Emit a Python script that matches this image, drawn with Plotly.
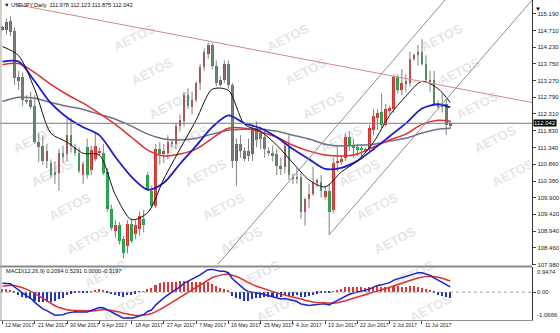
import plotly.graph_objects as go

# ---------------- data ----------------
date_labels = ["12 Mar 2017", "21 Mar 2017", "30 Mar 2017", "9 Apr 2017", "18 Apr 2017",
               "27 Apr 2017", "7 May 2017", "16 May 2017", "25 May 2017", "4 Jun 2017",
               "13 Jun 2017", "22 Jun 2017", "2 Jul 2017", "11 Jul 2017"]
date_label_bars = [0, 8, 16, 24, 32, 40, 48, 56, 64, 72, 80, 88, 96, 104]

opens = [114.75, 114.72, 114.98, 114.70, 113.25, 113.38, 112.72, 112.70, 112.55, 111.50,
         111.38, 110.96, 110.90, 110.65, 110.60, 111.20, 111.15, 111.70, 111.36, 111.20,
         110.55, 111.35, 110.70, 111.00, 111.20, 111.20, 110.64, 109.58, 108.95, 109.10,
         108.70, 108.52, 109.15, 108.85, 109.00, 109.30, 110.55, 110.10, 109.65, 111.30,
         111.15, 111.20, 111.50, 111.45, 111.95, 112.10, 112.85, 112.50, 112.72, 113.20,
         113.65, 114.05, 114.30, 113.70, 113.15, 113.30, 113.75, 113.15, 110.95, 111.45,
         111.25, 111.25, 111.15, 111.90, 111.75, 111.65, 111.25, 111.20, 111.15, 110.80,
         110.78, 111.40, 110.50, 110.45, 110.50, 109.50, 109.85, 110.00, 110.35, 110.35,
         109.93, 110.10, 109.55, 110.90, 110.95, 111.05, 111.65, 111.40, 111.35, 111.30,
         111.25, 111.30, 111.85, 112.20, 112.38, 112.00, 112.40, 112.45, 113.38, 113.00,
         113.20, 113.20, 113.90, 114.00, 114.10, 113.75, 113.25, 113.30, 112.60, 112.50,
         112.60, 111.978]
highs = [114.85, 115.05, 115.12, 114.80, 113.55, 113.50, 112.85, 112.95, 112.85, 111.75,
         111.70, 111.45, 111.00, 110.95, 111.30, 111.40, 112.16, 112.20, 111.45, 111.35,
         110.95, 111.60, 111.40, 111.80, 111.35, 111.45, 110.75, 109.70, 109.25, 109.20,
         108.80, 109.25, 109.30, 109.25, 109.50, 109.55, 110.65, 110.25, 111.45, 111.50,
         111.45, 111.70, 111.60, 112.05, 112.30, 112.95, 113.05, 112.95, 113.25, 113.75,
         114.20, 114.37, 114.36, 113.85, 113.40, 113.85, 113.85, 113.20, 111.60, 111.70,
         111.35, 111.60, 112.00, 112.10, 111.95, 111.90, 111.35, 111.40, 111.30, 111.05,
         111.50, 111.70, 110.60, 110.75, 110.60, 109.90, 110.30, 110.80, 110.45, 110.55,
         110.25, 110.30, 111.05, 111.40, 111.10, 111.75, 111.80, 111.60, 111.45, 111.40,
         111.35, 112.00, 112.45, 112.45, 112.90, 112.60, 112.55, 113.45, 113.45, 113.60,
         113.45, 114.10, 114.05, 114.30, 114.47, 114.00, 113.55, 113.55, 112.70, 112.90,
         112.75, 112.123]
lows = [114.70, 114.60, 114.55, 113.15, 113.00, 112.55, 112.60, 112.45, 111.45, 110.93,
        110.85, 110.75, 110.45, 110.30, 110.10, 110.90, 110.95, 111.20, 111.10, 110.60,
        110.30, 110.45, 110.55, 110.95, 111.10, 110.55, 109.50, 108.95, 108.75, 108.55,
        108.15, 108.30, 108.60, 108.70, 108.80, 108.90, 110.10, 109.60, 109.60, 110.85,
        110.90, 111.00, 111.35, 111.30, 111.80, 111.95, 112.45, 112.30, 112.65, 113.00,
        113.55, 113.90, 113.60, 113.10, 113.10, 113.20, 113.05, 110.75, 110.24, 111.05,
        110.95, 110.95, 110.95, 111.35, 111.30, 111.05, 111.10, 110.95, 110.55, 110.55,
        110.60, 110.40, 110.30, 110.30, 109.30, 109.10, 109.60, 109.95, 110.20, 109.90,
        109.85, 108.83, 109.45, 110.65, 110.85, 110.95, 111.25, 111.05, 111.10, 111.00,
        111.20, 111.20, 111.70, 111.85, 111.90, 111.95, 112.30, 112.35, 112.90, 112.85,
        112.95, 113.10, 113.85, 113.70, 113.70, 113.20, 112.95, 112.55, 112.45, 112.35,
        111.70, 111.875]
closes = [114.80, 114.95, 114.68, 113.36, 113.38, 112.72, 112.68, 112.52, 111.50, 111.36,
          110.96, 111.25, 110.55, 110.55, 111.20, 111.08, 111.70, 111.38, 111.20, 110.68,
          110.87, 110.55, 111.28, 111.40, 111.25, 110.62, 109.58, 109.02, 109.10, 108.64,
          108.30, 109.15, 108.64, 109.10, 109.38, 109.10, 110.15, 109.65, 111.30, 111.15,
          111.25, 111.50, 111.45, 111.95, 112.15, 112.85, 112.55, 112.70, 113.20, 113.65,
          114.10, 114.30, 113.70, 113.20, 113.30, 113.75, 113.15, 110.95, 111.45, 111.25,
          111.00, 111.10, 111.90, 111.55, 111.60, 111.30, 111.20, 111.10, 110.80, 110.75,
          111.40, 110.55, 110.45, 110.48, 109.50, 109.85, 110.00, 110.35, 110.40, 110.10,
          110.10, 109.50, 110.90, 110.95, 111.00, 111.65, 111.40, 111.35, 111.30, 111.28,
          111.30, 111.90, 112.25, 112.35, 112.00, 112.45, 112.48, 113.38, 113.00, 113.20,
          113.25, 113.90, 114.00, 114.10, 113.75, 113.30, 113.25, 112.60, 112.50, 112.60,
          111.98, 112.042]

# moving averages, read at every 4th bar
ma_idx = [0, 4, 8, 12, 16, 20, 24, 28, 32, 36, 40, 44, 48, 52, 56, 60, 64, 68, 72, 76,
          80, 84, 88, 92, 96, 100, 104, 108, 111]
ma_black = [114.25, 113.99, 113.02, 111.76, 111.50, 111.18, 111.13, 109.98, 109.27, 109.47,
            110.44, 111.30, 112.13, 113.02, 112.99, 112.01, 111.81, 111.41, 110.90, 110.41,
            110.21, 110.64, 110.96, 111.50, 112.27, 112.82, 113.25, 113.04, 112.64]
ma_blue = [113.82, 113.82, 113.25, 112.62, 112.21, 111.93, 111.70, 111.07, 110.50, 110.13,
           110.33, 110.87, 111.39, 111.93, 112.27, 112.04, 111.90, 111.64, 111.30, 111.01,
           110.73, 110.76, 110.96, 111.30, 111.67, 112.04, 112.47, 112.59, 112.50]
ma_red = [113.73, 113.76, 113.50, 113.16, 112.87, 112.62, 112.33, 112.01, 111.64, 111.27,
          111.10, 111.16, 111.30, 111.61, 111.90, 111.90, 111.79, 111.64, 111.41, 111.24,
          111.13, 111.10, 111.16, 111.36, 111.56, 111.73, 112.01, 112.13, 112.10]
ma_gray = [112.67, 112.79, 112.76, 112.64, 112.53, 112.44, 112.30, 112.16, 111.96, 111.73,
           111.59, 111.56, 111.61, 111.73, 111.84, 111.87, 111.87, 111.81, 111.70, 111.59,
           111.44, 111.39, 111.41, 111.44, 111.53, 111.61, 111.76, 111.87, 111.90]

# trend lines (bar, price) end points
resist_line = [(3.0, 115.47), (131.3, 112.64)]
channel_low = [(81.0, 108.83), (131.3, 115.59)]
channel_up = [(53.4, 107.98), (109.7, 115.59)]

price_ticks = [107.98, 108.46, 108.94, 109.42, 109.90, 110.38, 110.86, 111.34,
               111.83, 112.31, 112.79, 113.27, 113.75, 114.23, 114.71, 115.19]
price_tick_text = ["107.980", "108.460", "108.940", "109.420", "109.900", "110.380",
                   "110.860", "111.340", "111.830", "112.310", "112.790", "113.270",
                   "113.750", "114.230", "114.710", "115.190"]
macd_max, macd_min = 0.9474, -1.0666
macd_scale_text = ["0.9474", "0.00", "-1.0666"]

# MACD(12,26,9) seeds (state before first visible bar)
EMA12_SEED, EMA26_SEED, SIGNAL_SEED = 114.55, 114.20, 0.20

header_text = "\u25bc USDJPY,Daily  111.978 112.123 111.875 112.042"
macd_header = "MACD(12,26,9) 0.2094 0.5291 0.0000 -0.3197"

# ---------------- derived ----------------
n = len(closes)
bars = list(range(n))
e12, e26, sg = EMA12_SEED, EMA26_SEED, SIGNAL_SEED
macd, signal = [], []
for c in closes:
    e12 += 2 / 13 * (c - e12)
    e26 += 2 / 27 * (c - e26)
    m = e12 - e26
    sg += 2 / 10 * (m - sg)
    macd.append(m)
    signal.append(sg)
hist = [m - s for m, s in zip(macd, signal)]

# ---------------- geometry / styles ----------------
W, H = 560, 333
RIGHT = 537
MAIN_BOT, MACD_TOP, MACD_BOT = 267, 269, 322
X0, DX = 2.5, 4.07
x_range = [-X0 / DX, (RIGHT - X0) / DX]
PPU = 34.95
y_range = [107.98 - (MAIN_BOT - 266) / PPU, 107.98 + 266 / PPU]
FONT = "Liberation Sans"
UP, DOWN = "#d92b2b", "#22a045"

def py(p):
    return 1 - p / H

fig = go.Figure()

# wicks
wx, wy = [], []
for i in bars:
    wx += [i, i, None]
    wy += [lows[i], highs[i], None]
fig.add_trace(go.Scatter(x=wx, y=wy, mode="lines", line=dict(color="#808080", width=1),
                         hoverinfo="skip", xaxis="x", yaxis="y"))
# bodies
fig.add_trace(go.Bar(x=bars, base=[min(o, c) for o, c in zip(opens, closes)],
                     y=[max(abs(c - o), 0.03) for o, c in zip(opens, closes)],
                     marker=dict(color=[UP if c >= o else DOWN for o, c in zip(opens, closes)],
                                 line=dict(width=0)),
                     width=0.66, xaxis="x", yaxis="y"))

# moving averages
for vals, col, wd in [(ma_gray, "#6f6f8a", 1.5), (ma_red, "#dd3030", 1.5),
                      (ma_blue, "#1c1ccc", 1.8), (ma_black, "#111111", 1)]:
    fig.add_trace(go.Scatter(x=ma_idx, y=vals, mode="lines",
                             line=dict(color=col, width=wd, shape="spline", smoothing=0.8),
                             xaxis="x", yaxis="y"))

# trend lines
for pts, col in [(resist_line, "#d08a8a"), (channel_low, "#8c8c9c"), (channel_up, "#8c8c9c")]:
    fig.add_trace(go.Scatter(x=[p[0] for p in pts], y=[p[1] for p in pts], mode="lines",
                             line=dict(color=col, width=1), xaxis="x", yaxis="y"))

# MACD
fig.add_trace(go.Bar(x=bars, y=hist, width=0.38,
                     marker=dict(color=["#e03535" if h >= 0 else "#2233c8" for h in hist],
                                 line=dict(width=0)),
                     xaxis="x2", yaxis="y2"))
fig.add_trace(go.Scatter(x=bars, y=signal, mode="lines", line=dict(color="#dd3030", width=1.5),
                         xaxis="x2", yaxis="y2"))
fig.add_trace(go.Scatter(x=bars, y=macd, mode="lines", line=dict(color="#2222cc", width=1.5),
                         xaxis="x2", yaxis="y2"))

shapes = []
# watermarks (drawn below everything), only those fully inside the picture
for k in range(-2, 10):
    for c in range(-3, 3):
        cx = 290 + 18 * k + 155 * c
        cy = 37 + 34 * k
        if 30 <= cx <= 528 and 18 <= cy <= 316:
            shapes.append(dict(type="rect", xref="paper", yref="paper", layer="below",
                               x0=(cx - 30) / W, x1=(cx + 30) / W, y0=py(cy + 10), y1=py(cy - 10),
                               line=dict(width=0), fillcolor="rgba(0,0,0,0)",
                               label=dict(text="AETOS", textangle=-27,
                                          font=dict(family=FONT, size=13, color="#e6e6e6",
                                                    weight="bold"))))
# current price line
shapes.append(dict(type="line", xref="paper", yref="y", x0=0, x1=RIGHT / W,
                   y0=closes[-1], y1=closes[-1], line=dict(color="#7a7a7a", width=1)))
# separator between panels
shapes.append(dict(type="rect", xref="paper", yref="paper", x0=0, x1=RIGHT / W,
                   y0=py(MACD_TOP), y1=py(MAIN_BOT), fillcolor="#8a8a8a", line=dict(width=0)))
# MACD zero line
shapes.append(dict(type="line", xref="paper", yref="y2", x0=0, x1=RIGHT / W, y0=0, y1=0,
                   line=dict(color="#a0a0a0", width=1, dash="dot")))
# left border
shapes.append(dict(type="line", xref="paper", yref="paper", x0=1 / W, x1=1 / W,
                   y0=py(MACD_BOT), y1=1, line=dict(color="#a0a0a0", width=1)))

ann = []
small = dict(family=FONT, size=6, color="#222222")
dfont = dict(family=FONT, size=5.2, color="#222222")
for b, t in zip(date_label_bars, date_labels):
    ann.append(dict(x=b, y=py(327), xref="x2", yref="paper", text=t, showarrow=False,
                    xanchor="left", yanchor="middle", xshift=1, font=dfont))
ann.append(dict(x=2 / W, y=py(5), xref="paper", yref="paper", text=header_text, showarrow=False,
                xanchor="left", yanchor="middle", font=dict(family=FONT, size=5.6, color="#111")))
ann.append(dict(x=4 / W, y=py(273), xref="paper", yref="paper", text=macd_header, showarrow=False,
                xanchor="left", yanchor="middle", font=dict(family=FONT, size=5.6, color="#111")))
ann.append(dict(x=(RIGHT + 1) / W, y=closes[-1], xref="paper", yref="y",
                text="%.3f" % closes[-1], showarrow=False, xanchor="left", yanchor="middle",
                bgcolor="#000000", borderpad=0, font=dict(family=FONT, size=6, color="#ffffff")))
for v, t, anc in zip([macd_max, 0, macd_min], macd_scale_text, ["top", "middle", "bottom"]):
    ann.append(dict(x=(RIGHT + 3) / W, y=v, xref="paper", yref="y2", text=t, showarrow=False,
                    xanchor="left", yanchor=anc, font=small))
ann.append(dict(x=548 / W, y=py(4), xref="paper", yref="paper", text="\u25bc", showarrow=False,
                font=dict(family=FONT, size=6, color="#000")))

fig.update_layout(
    width=W, height=H, margin=dict(l=0, r=0, t=0, b=0),
    paper_bgcolor="white", plot_bgcolor="rgba(0,0,0,0)", showlegend=False,
    barmode="overlay", bargap=0,
    shapes=shapes, annotations=ann,
    xaxis=dict(domain=[0, RIGHT / W], range=x_range, anchor="y", showticklabels=False,
               showgrid=False, zeroline=False, ticks=""),
    xaxis2=dict(domain=[0, RIGHT / W], range=x_range, anchor="y2", matches="x",
                tickvals=date_label_bars, ticks="outside", ticklen=3, tickcolor="#444",
                showticklabels=False, showgrid=False, zeroline=False,
                showline=True, linecolor="#909090", linewidth=1),
    yaxis=dict(domain=[py(MAIN_BOT), 1], range=y_range, side="right", anchor="x",
               tickvals=price_ticks, ticktext=price_tick_text, ticks="outside", ticklen=3,
               tickcolor="#444", tickfont=small, showgrid=False, zeroline=False,
               showline=True, linecolor="#333", linewidth=1),
    yaxis2=dict(domain=[py(MACD_BOT), py(MACD_TOP)], range=[macd_min, macd_max], side="right",
                anchor="x2", tickvals=[0], ticks="outside", ticklen=3, tickcolor="#444",
                showticklabels=False, showgrid=False, zeroline=False,
                showline=True, linecolor="#333", linewidth=1),
)

fig.write_html("out.html")
